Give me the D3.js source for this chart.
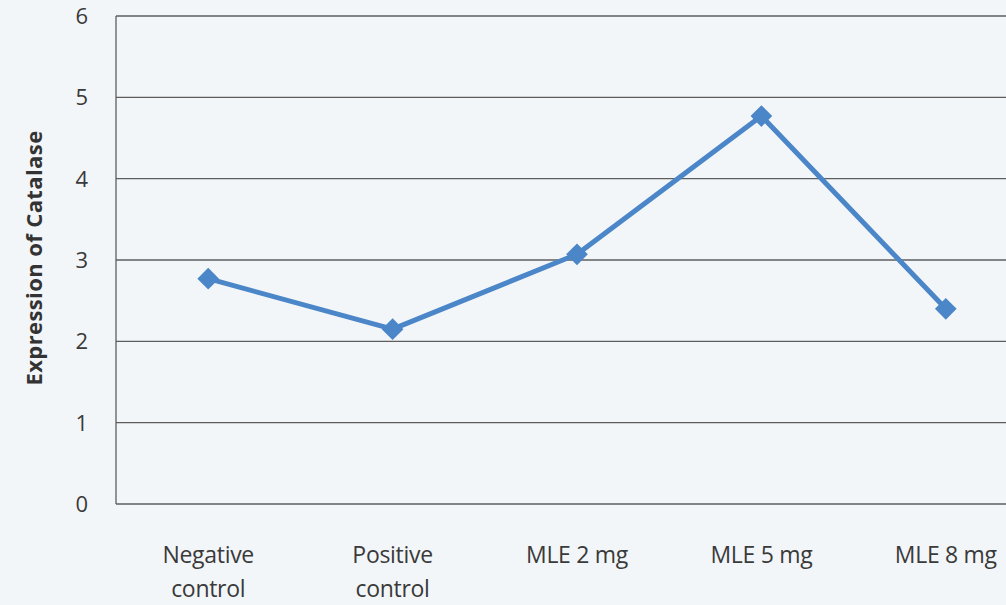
<!DOCTYPE html>
<html>
<head>
<meta charset="utf-8">
<script src="https://cdn.jsdelivr.net/npm/d3@7"></script>
<style>
  body { margin: 0; background: #f3f6f9; }
  svg { display: block; }
</style>
</head>
<body>
<svg id="chart"></svg>
<script>
const categories = [["Negative", "control"], ["Positive", "control"], ["MLE 2 mg"], ["MLE 5 mg"], ["MLE 8 mg"]];
const values = [2.77, 2.15, 3.07, 4.77, 2.40];
const yTicks = [0, 1, 2, 3, 4, 5, 6];

const width = 1006;
const height = 605;
const margin = { top: 16, right: -32, bottom: 101, left: 116 };

const svg = d3.select("#chart")
    .attr("width", width)
    .attr("height", height)
    .style("background-color", "#f3f6f9");

const xScale = d3.scaleBand()
    .domain(categories.map(d => d.join(" ")))
    .range([margin.left, width - margin.right])
    .padding(0);

const yScale = d3.scaleLinear()
    .domain([0, 6])
    .range([height - margin.bottom, margin.top]);

// gridlines
svg.append("g")
    .selectAll("line")
    .data(yTicks)
    .join("line")
    .attr("x1", margin.left)
    .attr("x2", width)
    .attr("y1", d => yScale(d))
    .attr("y2", d => yScale(d))
    .attr("stroke", "#5e5e5e")
    .attr("stroke-width", 1.3);

// y axis line
svg.append("line")
    .attr("x1", margin.left)
    .attr("x2", margin.left)
    .attr("y1", yScale(6))
    .attr("y2", yScale(0))
    .attr("stroke", "#5e5e5e")
    .attr("stroke-width", 1.3);

// y tick labels
svg.append("g")
    .selectAll("text")
    .data(yTicks)
    .join("text")
    .attr("x", 88)
    .attr("y", d => yScale(d))
    .attr("dy", "0.36em")
    .attr("text-anchor", "end")
    .attr("font-family", "Open Sans, sans-serif")
    .attr("font-size", "22px")
    .attr("fill", "#3a3a3a")
    .text(d => d);

// x labels
const xl = svg.append("g")
    .selectAll("text")
    .data(categories)
    .join("text")
    .attr("x", d => xScale(d.join(" ")) + xScale.bandwidth() / 2)
    .attr("y", 563)
    .attr("text-anchor", "middle")
    .attr("font-family", "Open Sans, sans-serif")
    .attr("font-size", "23px")
    .attr("letter-spacing", "-0.3px")
    .attr("fill", "#3a3a3a");
xl.selectAll("tspan")
    .data(d => d)
    .join("tspan")
    .attr("x", function() { return this.parentNode.getAttribute("x"); })
    .attr("dy", (d, i) => i === 0 ? 0 : 34)
    .text(d => d);

// axis title
svg.append("text")
    .attr("transform", `translate(42, ${258}) rotate(-90)`)
    .attr("text-anchor", "middle")
    .attr("font-family", "Open Sans, sans-serif")
    .attr("font-size", "22px")
    .attr("font-weight", "bold")
    .attr("letter-spacing", "0.4px")
    .attr("fill", "#333")
    .text("Expression of Catalase");

// line
const pts = values.map((v, i) => ({ cat: categories[i].join(" "), value: v }));
const line = d3.line()
    .x(d => xScale(d.cat) + xScale.bandwidth() / 2)
    .y(d => yScale(d.value));

svg.append("path")
    .datum(pts)
    .attr("d", line)
    .attr("fill", "none")
    .attr("stroke", "#4a86c8")
    .attr("stroke-width", 5)
    .attr("stroke-linejoin", "round");

svg.append("g")
    .selectAll("path")
    .data(pts)
    .join("path")
    .attr("transform", d => `translate(${xScale(d.cat) + xScale.bandwidth() / 2},${yScale(d.value)})`)
    .attr("d", d3.symbol().type(d3.symbolDiamond2).size(300))
    .attr("fill", "#4a86c8");
</script>
</body>
</html>
